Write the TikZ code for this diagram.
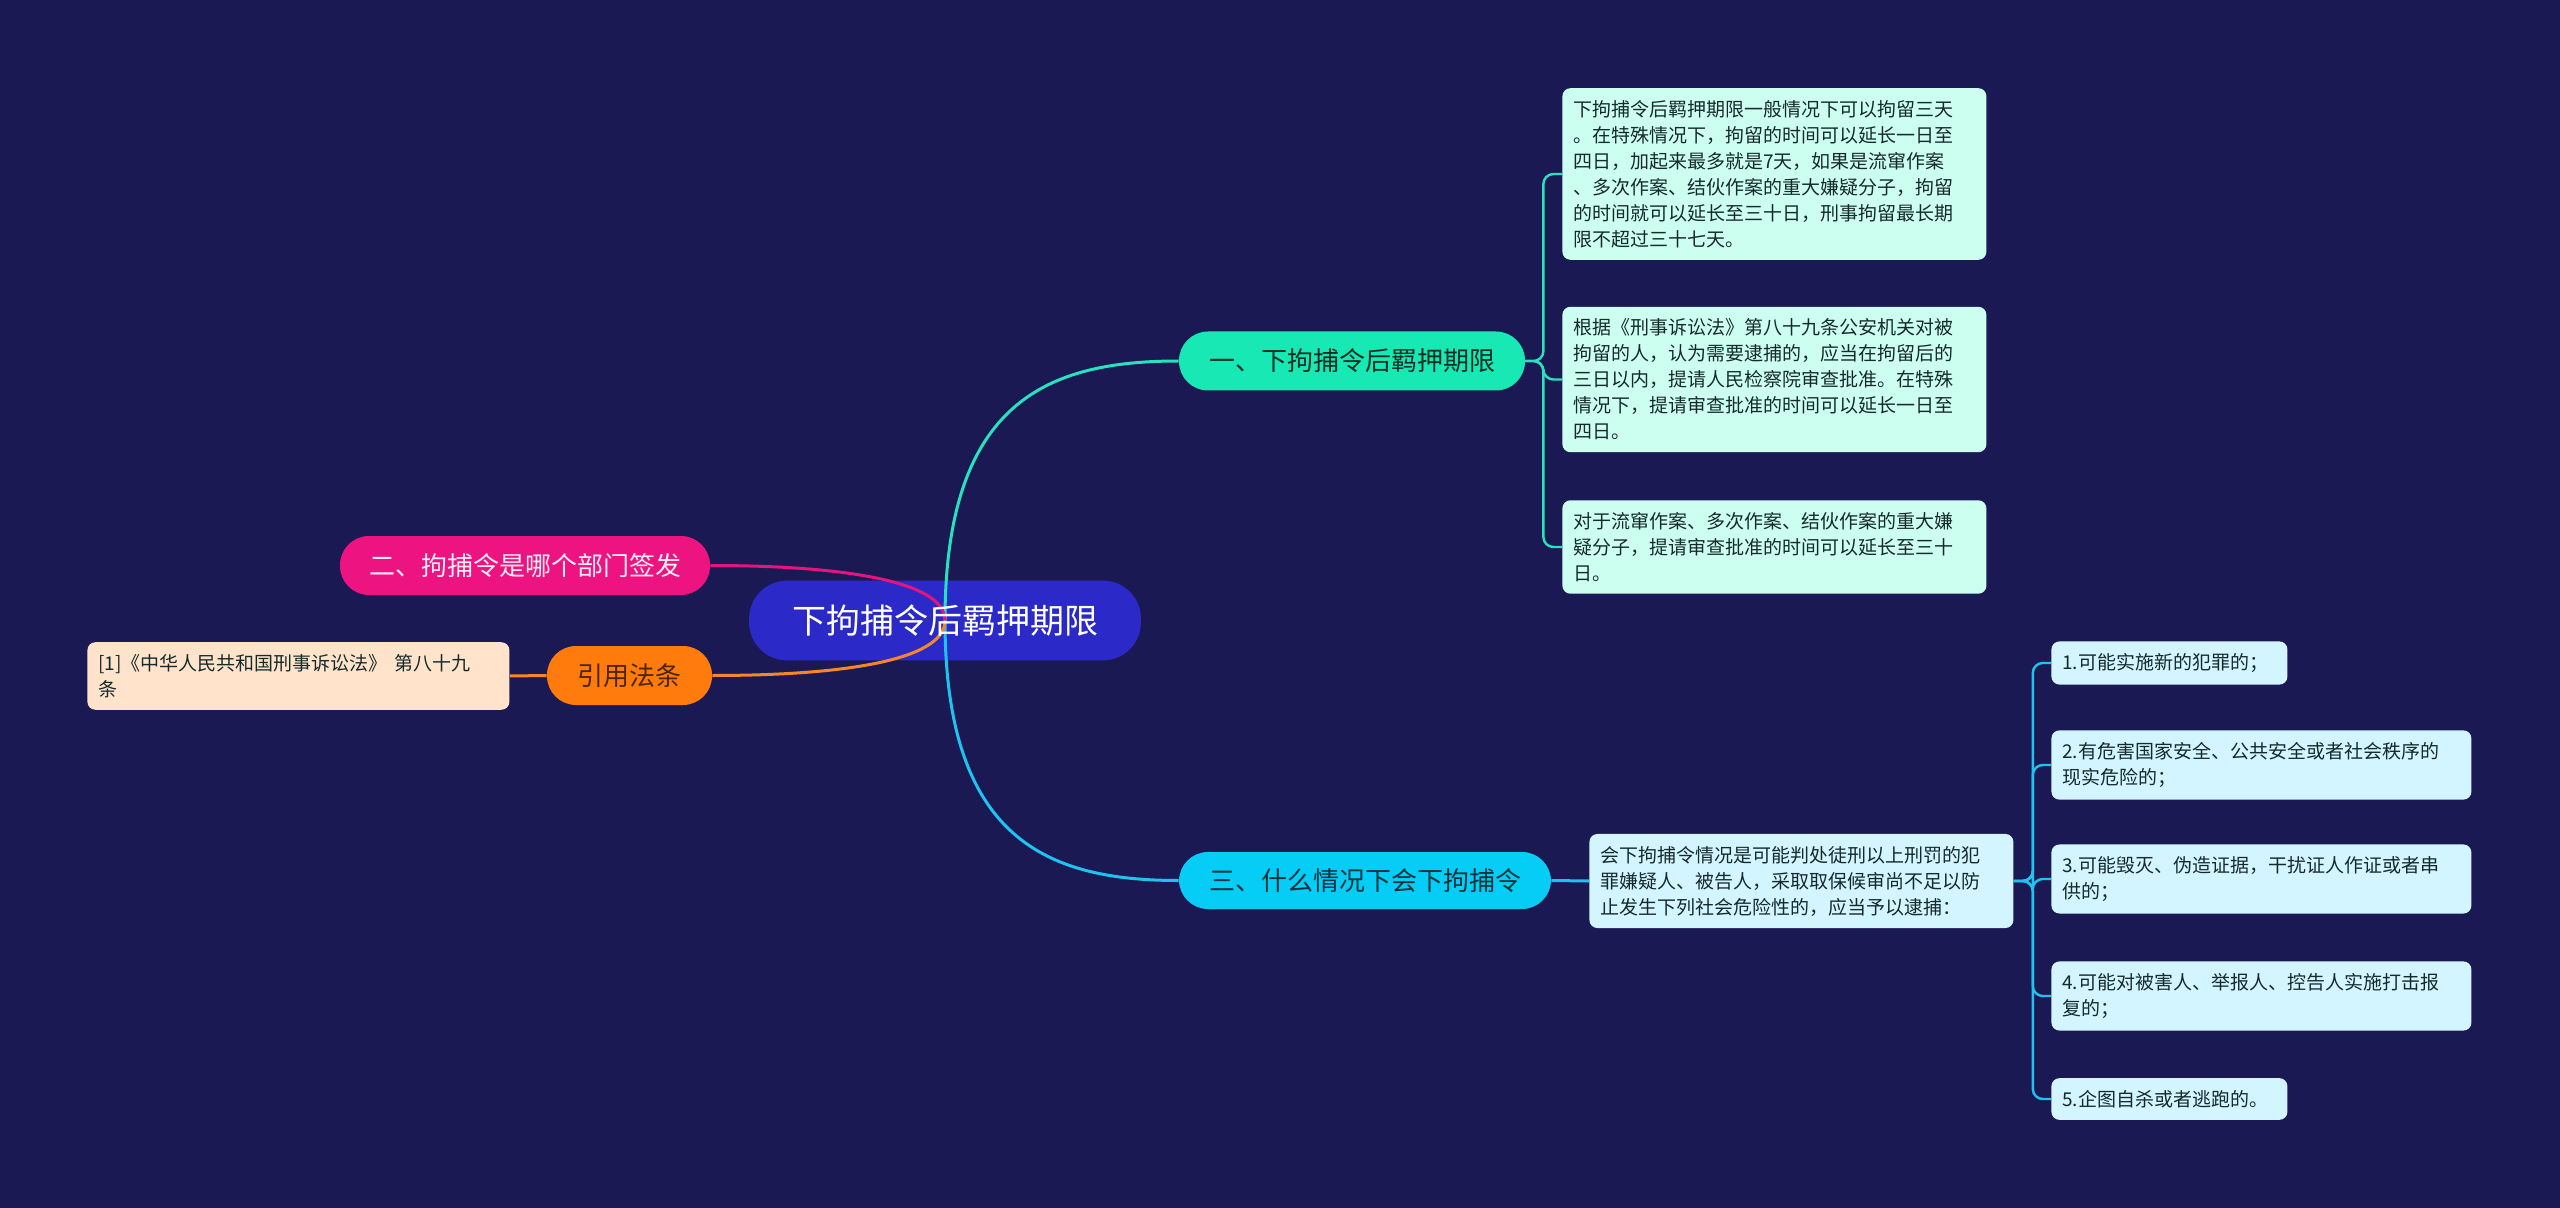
\documentclass[tikz,border=0pt]{standalone}
\usepackage{fontspec}
\setmainfont{Noto Sans CJK SC}
% Capas: fondo, enlaces y nodos
\pgfdeclarelayer{fondo}
\pgfdeclarelayer{enlaces}
\pgfsetlayers{fondo,enlaces,main}
% Colores
\definecolor{cfondo}{RGB}{27,25,84}
\definecolor{azulraiz}{RGB}{43,42,200}
\definecolor{verde}{RGB}{24,232,180}
\definecolor{cian}{RGB}{5,205,245}
\definecolor{rosa}{RGB}{237,19,128}
\definecolor{naranja}{RGB}{255,124,12}
\definecolor{crema}{RGB}{255,228,203}
\definecolor{menta}{RGB}{205,255,240}
\definecolor{celeste}{RGB}{210,245,255}
\definecolor{lverde}{RGB}{40,225,190}
\definecolor{lcian}{RGB}{30,195,240}
\definecolor{lrosa}{RGB}{230,20,125}
\definecolor{lnaranja}{RGB}{245,135,40}
\definecolor{tinta}{RGB}{22,42,44}

\begin{document}
\begin{tikzpicture}[x=0.5pt,y=-0.5pt, % un pixel = 0.5pt
    raizbox/.style={text=white, minimum width=195.5pt, minimum height=39.5pt,
        font=\fontsize{17}{20}\selectfont},
    ramabox/.style={rounded corners=14.5pt, minimum height=29.5pt,
        font=\fontsize{13}{15}\selectfont},
    hojabox/.style={rounded corners=4pt, inner xsep=5.5pt, inner ysep=6pt,
        align=left, text=tinta, font=\fontsize{9.5}{13}\selectfont},
    enlace/.style={line width=1.5pt},
    brazo/.style={line width=1.2pt, rounded corners=5pt}]
    \useasboundingbox (0,0) rectangle (2560,1208);

    % Nodo central
    \node[raizbox] (raiz) at (945,620.5) {下拘捕令后羁押期限};
    \begin{pgfonlayer}{fondo}
        \fill[cfondo] (0,0) rectangle (2560,1208);
        \fill[azulraiz, rounded corners=19pt] (raiz.south west) rectangle (raiz.north east);
    \end{pgfonlayer}

    % Ramas principales
    \node[ramabox, fill=verde, text=verde!20!black, minimum width=173pt] (rama1) at (1352,361) {一、下拘捕令后羁押期限};
    \node[ramabox, fill=rosa, text=rosa!8!white, minimum width=185pt] (rama2) at (525,565.5) {二、拘捕令是哪个部门签发};
    \node[ramabox, fill=cian, text=cian!25!black, minimum width=186pt, minimum height=28.5pt] (rama3) at (1365,880.5) {三、什么情况下会下拘捕令};
    \node[ramabox, fill=naranja, text=naranja!30!black, minimum width=82.5pt] (rama4) at (629.5,675.5) {引用法条};

    % Cita
    \node[hojabox, fill=crema, text width=200pt, anchor=west] (cita) at (87,676)
        {[1]《中华人民共和国刑事诉讼法》 第八十九\\条};

    % Hojas de la rama uno
    \node[hojabox, fill=menta, text width=201pt, anchor=west] (hojaA) at (1562,174)
        {下拘捕令后羁押期限一般情况下可以拘留三天\\。在特殊情况下，拘留的时间可以延长一日至\\四日，加起来最多就是7天，如果是流窜作案\\、多次作案、结伙作案的重大嫌疑分子，拘留\\的时间就可以延长至三十日，刑事拘留最长期\\限不超过三十七天。};
    \node[hojabox, fill=menta, text width=201pt, anchor=west] (hojaB) at (1562,379.5)
        {根据《刑事诉讼法》第八十九条公安机关对被\\拘留的人，认为需要逮捕的，应当在拘留后的\\三日以内，提请人民检察院审查批准。在特殊\\情况下，提请审查批准的时间可以延长一日至\\四日。};
    \node[hojabox, fill=menta, text width=201pt, anchor=west] (hojaC) at (1562,547)
        {对于流窜作案、多次作案、结伙作案的重大嫌\\疑分子，提请审查批准的时间可以延长至三十\\日。};

    % Hojas de la rama tres
    \node[hojabox, fill=celeste, text width=201pt, anchor=west] (hojaD) at (1589,881)
        {会下拘捕令情况是可能判处徒刑以上刑罚的犯\\罪嫌疑人、被告人，采取取保候审尚不足以防\\止发生下列社会危险性的，应当予以逮捕：};
    \node[hojabox, fill=celeste, text width=107pt, anchor=west] (caso1) at (2051,663) {1.可能实施新的犯罪的；};
    \node[hojabox, fill=celeste, text width=199pt, anchor=west] (caso2) at (2051,765)
        {2.有危害国家安全、公共安全或者社会秩序的\\现实危险的；};
    \node[hojabox, fill=celeste, text width=199pt, anchor=west] (caso3) at (2051,879)
        {3.可能毁灭、伪造证据，干扰证人作证或者串\\供的；};
    \node[hojabox, fill=celeste, text width=199pt, anchor=west] (caso4) at (2051,996)
        {4.可能对被害人、举报人、控告人实施打击报\\复的；};
    \node[hojabox, fill=celeste, text width=107pt, anchor=west] (caso5) at (2051,1099) {5.企图自杀或者逃跑的。};

    \begin{pgfonlayer}{enlaces}
    % Enlaces desde el centro
    \draw[enlace, lverde] (raiz.center) .. controls +(0,-220) and +(-130,0) .. (rama1.west);
    \draw[enlace, lcian] (raiz.center) .. controls +(0,220) and +(-130,0) .. (rama3.west);
    \draw[enlace, lrosa] (raiz.center) .. controls +(0,-40) and +(130,0) .. (rama2.east);
    \draw[enlace, lnaranja] (raiz.center) .. controls +(0,40) and +(130,0) .. (rama4.east);
    \draw[enlace, lnaranja] (rama4.west) -- (cita.east);

    % Brazos hacia las hojas
    \foreach \h in {hojaA,hojaB,hojaC}
        \draw[brazo, lverde] (rama1.east) -- ++(18,0) |- (\h.west);
    \draw[enlace, lcian] (rama3.east) -- (hojaD.west);
    \foreach \h in {caso1,caso2,caso3,caso4,caso5}
        \draw[brazo, lcian] (hojaD.east) -- ++(19,0) |- (\h.west);
    \end{pgfonlayer}
\end{tikzpicture}
\end{document}
